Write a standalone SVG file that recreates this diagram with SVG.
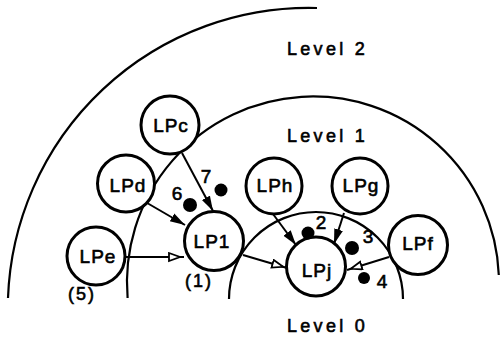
<svg xmlns="http://www.w3.org/2000/svg" width="501" height="338" viewBox="0 0 501 338">
<style>
.arc{fill:none;stroke:#000;stroke-width:2.2}
.node{fill:#fff;stroke:#000;stroke-width:3}
text{font-family:"Liberation Sans",Arial,sans-serif;fill:#000;stroke:#000;stroke-width:0.6px}
.lbl{font-size:19px;letter-spacing:1px;text-anchor:middle}
.lvl{font-size:18px;letter-spacing:3.3px}
.num{font-size:19px;text-anchor:middle}
.edge{fill:none;stroke:#000;stroke-width:2}
.dot{fill:#000}
</style>
<defs>
<marker id="solid" markerUnits="userSpaceOnUse" markerWidth="16" markerHeight="12" refX="15" refY="5" orient="auto">
<path d="M0,0.5 L15,5 L0,9.5 z" fill="#000"/>
</marker>
<marker id="hollow" markerUnits="userSpaceOnUse" markerWidth="20" markerHeight="12" refX="16" refY="5" orient="auto">
<path d="M1,1 L12,5 L1,9 z" fill="#fff" stroke="#000" stroke-width="1.8"/>
</marker>
</defs>
<g id="levels">
<path class="arc" d="M8,298 A301,301 0 0,1 317,8"/>
<path class="arc" d="M127.6,298 A186,186 0 1,1 498.8,275"/>
<path class="arc" d="M229,299 A87,87 0 0,1 403,299"/>
</g>
<g id="connectors">
<line class="edge" x1="182" y1="153" x2="213" y2="211" marker-end="url(#solid)"/>
<line class="edge" x1="142" y1="200" x2="185" y2="225" marker-end="url(#solid)"/>
<line class="edge" x1="125" y1="257" x2="184" y2="257" marker-end="url(#hollow)"/>
<line class="edge" x1="243" y1="255" x2="287" y2="268" marker-end="url(#hollow)"/>
<line class="edge" x1="273" y1="214" x2="296" y2="245" marker-end="url(#solid)"/>
<line class="edge" x1="344" y1="213" x2="334" y2="244" marker-end="url(#solid)"/>
<line class="edge" x1="389" y1="257" x2="347" y2="270" marker-end="url(#hollow)"/>
</g>
<g id="LPc"><circle class="node" cx="170" cy="125" r="29"/><text class="lbl" x="171" y="132">LPc</text></g>
<g id="LPd"><circle class="node" cx="126" cy="183.5" r="28.5"/><text class="lbl" x="128" y="192">LPd</text></g>
<g id="LPe"><circle class="node" cx="96" cy="256" r="29"/><text class="lbl" x="98" y="263">LPe</text></g>
<g id="LP1"><circle class="node" cx="214" cy="241" r="29.5"/><text class="lbl" x="212" y="248">LP1</text><text class="lvl" x="185" y="287" style="letter-spacing:2px">(1)</text></g>
<g id="LPh"><circle class="node" cx="274" cy="186" r="28"/><text class="lbl" x="275" y="192">LPh</text></g>
<g id="LPg"><circle class="node" cx="360" cy="186" r="28"/><text class="lbl" x="361" y="192">LPg</text></g>
<g id="LPj"><circle class="node" cx="316" cy="266.5" r="29.5"/><text class="lbl" x="317" y="277">LPj</text></g>
<g id="LPf"><circle class="node" cx="418" cy="245" r="29.5"/><text class="lbl" x="418" y="250">LPf</text></g>
<g id="markers">
<circle class="dot" cx="190" cy="205" r="7"/>
<circle class="dot" cx="221" cy="190" r="6.5"/>
<circle class="dot" cx="308" cy="233" r="6.5"/>
<circle class="dot" cx="352" cy="248" r="7"/>
<circle class="dot" cx="364" cy="278" r="6"/>
<text class="num" x="177" y="200">6</text>
<text class="num" x="206" y="183">7</text>
<text class="num" x="321" y="229">2</text>
<text class="num" x="368" y="243">3</text>
<text class="num" x="382" y="288">4</text>
<text class="lvl" x="68" y="300" style="letter-spacing:2px">(5)</text>
</g>
<g id="labels">
<text class="lvl" x="287" y="55">Level 2</text>
<text class="lvl" x="287" y="142">Level 1</text>
<text class="lvl" x="287" y="332">Level 0</text>
</g>
</svg>
